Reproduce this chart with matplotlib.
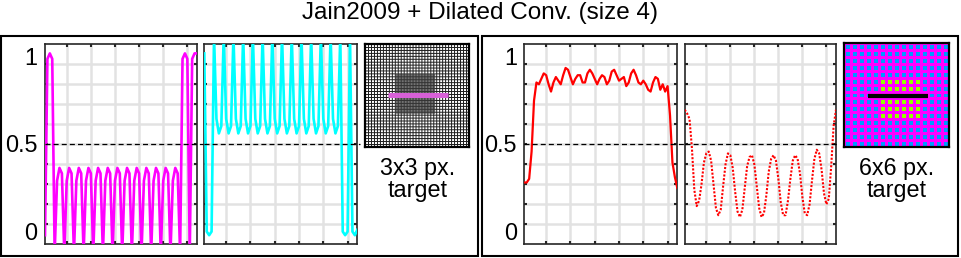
import numpy as np
import matplotlib.pyplot as plt
from matplotlib.patches import Rectangle

W, H = 961, 258

# ── Data (64 samples per profile) ───────────────────────────────────────────
x_samples = np.arange(1, 65)

magenta_3x3 = [0.00, 0.97, 1.00, 0.97, -0.10,
               0.30, 0.37, 0.34, -0.10, 0.30, 0.37, 0.34, -0.10,
               0.30, 0.37, 0.34, -0.10, 0.30, 0.37, 0.34, -0.10,
               0.30, 0.37, 0.34, -0.10, 0.30, 0.37, 0.34, -0.10,
               0.30, 0.37, 0.34, -0.10, 0.30, 0.37, 0.34, -0.10,
               0.30, 0.37, 0.34, -0.10, 0.30, 0.37, 0.34, -0.10,
               0.30, 0.37, 0.34, -0.10, 0.30, 0.37, 0.34, -0.10,
               0.30, 0.37, 0.34, -0.10,
               0.97, 1.00, 0.97, -0.10, 0.97, 1.00, 1.00]

cyan_3x3 = [1.00, 0.02, 0.00, 0.02, 1.10,
            0.64, 0.56, 0.60, 1.10, 0.64, 0.56, 0.60, 1.10,
            0.64, 0.56, 0.60, 1.10, 0.64, 0.56, 0.60, 1.10,
            0.64, 0.56, 0.60, 1.10, 0.64, 0.56, 0.60, 1.10,
            0.64, 0.56, 0.60, 1.10, 0.64, 0.56, 0.60, 1.10,
            0.64, 0.56, 0.60, 1.10, 0.64, 0.56, 0.60, 1.10,
            0.64, 0.56, 0.60, 1.10, 0.64, 0.56, 0.60, 1.10,
            0.64, 0.56, 0.60, 1.10,
            0.02, 0.00, 0.02, 1.10, 0.02, 0.00, 0.03]

red_solid_6x6 = [0.29, 0.29, 0.31, 0.46, 0.74, 0.84, 0.83, 0.86,
                 0.89, 0.88, 0.83, 0.79, 0.84, 0.87, 0.85, 0.83,
                 0.88, 0.92, 0.91, 0.87, 0.83, 0.86, 0.88, 0.88,
                 0.84, 0.84, 0.89, 0.91, 0.89, 0.86, 0.83, 0.86,
                 0.88, 0.87, 0.83, 0.85, 0.90, 0.91, 0.88, 0.85,
                 0.86, 0.87, 0.82, 0.84, 0.89, 0.91, 0.88, 0.84,
                 0.83, 0.85, 0.83, 0.80, 0.79, 0.84, 0.87, 0.86,
                 0.80, 0.83, 0.79, 0.82, 0.66, 0.40, 0.32, 0.26]

red_dotted_6x6 = [0.69, 0.67, 0.64, 0.48, 0.25, 0.16, 0.19, 0.28,
                  0.40, 0.45, 0.46, 0.41, 0.28, 0.15, 0.11, 0.14,
                  0.27, 0.39, 0.45, 0.44, 0.37, 0.24, 0.13, 0.10,
                  0.14, 0.26, 0.38, 0.43, 0.44, 0.39, 0.27, 0.15,
                  0.10, 0.12, 0.22, 0.35, 0.42, 0.44, 0.41, 0.31,
                  0.18, 0.11, 0.11, 0.19, 0.31, 0.41, 0.44, 0.42,
                  0.34, 0.21, 0.12, 0.11, 0.17, 0.30, 0.42, 0.47,
                  0.45, 0.36, 0.23, 0.17, 0.20, 0.38, 0.60, 0.69]

y_labels = ['1', '0.5', '0']
y_label_pos = [0.929, 0.4965, 0.0565]      # axes fraction
x_grid = [10, 20, 30, 40, 50, 60]
title = 'Jain2009 + Dilated Conv. (size 4)'
captions = [('3x3 px.', 'target'), ('6x6 px.', 'target')]

# target images
small_cells = 35          # fine sensor grid of the 3x3 image
big_cells = 15            # pixel grid of the 6x6 image
target_big = 6

C_GRID = '#e2e2e2'
C_SPINE = '#262626'

plt.rcParams.update({
    'font.family': ['Liberation Sans', 'DejaVu Sans'],
    'figure.facecolor': 'white',
})


def fx(px):
    return px / W


def fy(py):
    return 1 - py / H


def add_axes_px(fig, x0, y0, x1, y1):
    return fig.add_axes([fx(x0), fy(y1), fx(x1) - fx(x0), fy(y0) - fy(y1)])


def style_profile(ax, labels=False):
    ax.set_xlim(1, 64)
    ax.set_ylim(-0.05, 1.05)
    ax.set_xticks(x_grid)
    ax.set_yticks(np.linspace(-0.05, 1.05, 11)[1:-1])
    ax.set_xticklabels([])
    ax.set_yticklabels([])
    ax.tick_params(direction='in', length=2.2, width=1.5, color=C_SPINE,
                   top=True, right=True)
    ax.grid(True, color=C_GRID, lw=1.8, zorder=0)
    ax.set_axisbelow(True)
    for s in ax.spines.values():
        s.set_color(C_SPINE)
        s.set_linewidth(1.2)
    if labels:
        for lab, yp in zip(y_labels, y_label_pos):
            ax.text(-0.048, yp, lab, transform=ax.transAxes, ha='right',
                    va='center', fontsize=16.8, color='black')


def caption(lines, xc):
    fig.text(fx(xc), fy(175.5), lines[0], ha='center', va='baseline',
             fontsize=16.8)
    fig.text(fx(xc), fy(197), lines[1], ha='center', va='baseline',
             fontsize=16.8)


def image_frame(ax):
    ax.set_xlim(0, 1)
    ax.set_ylim(0, 1)
    ax.set_xticks([])
    ax.set_yticks([])
    for s in ax.spines.values():
        s.set_linewidth(1.6)


fig = plt.figure(figsize=(W / 100, H / 100), dpi=100)

# frames around the two groups
for x0, x1 in [(0.8, 478), (481.5, 958.2)]:
    fig.add_artist(Rectangle((fx(x0), fy(256.2)), fx(x1) - fx(x0),
                             fy(35.5) - fy(256.2), transform=fig.transFigure,
                             fill=False, ec='black', lw=1.5))

fig.text(0.5, fy(13), title, ha='center', va='center', fontsize=17.5)

dash = (0, (4, 2.5))

# ── left group: 3x3 target ─────────────────────────────────────────────────
ax1 = add_axes_px(fig, 45, 44.3, 197, 244.3)
ax1.plot(x_samples, magenta_3x3, color='#ff00ff', lw=1.9, zorder=3)
style_profile(ax1, labels=True)

ax2 = add_axes_px(fig, 204.3, 44.3, 357.3, 244.3)
ax2.plot(x_samples, cyan_3x3, color='#00ffff', lw=1.9, zorder=3)
style_profile(ax2)

ax1.axhline(0.5, xmin=0, xmax=1.05, color='black', lw=0.9, ls=dash,
            clip_on=False, zorder=4)
ax2.axhline(0.5, xmin=0, xmax=1.02, color='black', lw=0.9, ls=dash,
            clip_on=False, zorder=4)

# fine sensor-grid image with dark 3x3 target
n = small_cells * 3
img1 = np.ones((n, n))
img1[::3, :] = 0.12
img1[:, ::3] = 0.12
lo, hi = int(n * 0.29), int(n * 0.68)
dark = img1[lo:hi, lo:hi]
img1[lo:hi, lo:hi] = np.where(dark > 0.5, 0.45, 0.2)
ax3 = add_axes_px(fig, 365, 44, 469, 147)
ax3.imshow(img1, cmap='gray', vmin=0, vmax=1, interpolation='antialiased',
           extent=(0, 1, 0, 1), aspect='auto')
ax3.plot([0.224, 0.80], [0.505, 0.505], color='#d860d8', lw=3.6,
         solid_capstyle='butt')
image_frame(ax3)
caption(captions[0], 417.5)

# ── right group: 6x6 target ────────────────────────────────────────────────
ax4 = add_axes_px(fig, 524.3, 44.3, 677.3, 244.3)
ax4.plot(x_samples, red_solid_6x6, color='#ff0000', lw=1.6, zorder=3)
style_profile(ax4, labels=True)

ax5 = add_axes_px(fig, 684.7, 44.3, 836, 244.3)
ax5.plot(x_samples, red_dotted_6x6, color='#ff0000', lw=1.5,
         ls=(0, (1, 0.8)), zorder=3)
style_profile(ax5)

ax4.axhline(0.5, xmin=0, xmax=1.05, color='black', lw=0.9, ls=dash,
            clip_on=False, zorder=4)
ax5.axhline(0.5, xmin=0, xmax=1.02, color='black', lw=0.9, ls=dash,
            clip_on=False, zorder=4)

cell = 7
m = big_cells * cell
img2 = np.zeros((m, m, 3))
img2[:, :] = (1.0, 0.0, 1.0)
t0 = (big_cells - target_big) // 2 + 1
for i in range(big_cells):
    for j in range(big_cells):
        inside = t0 <= i < t0 + target_big and t0 <= j < t0 + target_big
        col = (0.58, 1.0, 0.0) if inside else (0.0, 0.6, 1.0)
        img2[i * cell + 2:i * cell + 6, j * cell + 2:j * cell + 6] = col
ax6 = add_axes_px(fig, 844.3, 43.3, 949, 146.7)
ax6.imshow(img2, interpolation='nearest', extent=(0, 1, 0, 1), aspect='auto')
ax6.plot([0.23, 0.80], [0.495, 0.495], color='black', lw=3.0,
         solid_capstyle='butt')
image_frame(ax6)
caption(captions[1], 897)

fig.savefig('out.png', dpi=100)
